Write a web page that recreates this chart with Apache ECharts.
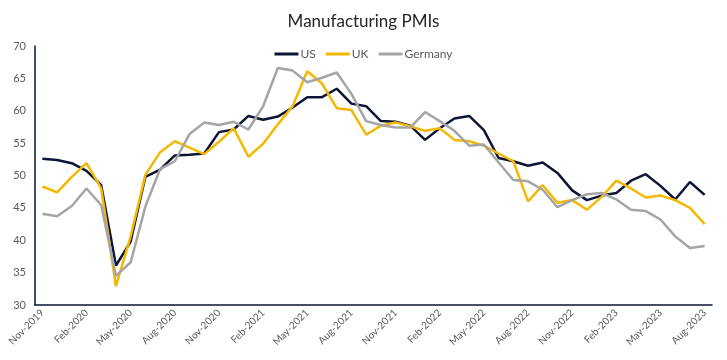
<!DOCTYPE html>
<html><head><meta charset="utf-8">
<script src="https://cdn.jsdelivr.net/npm/echarts@6/dist/echarts.min.js"></script>
<style>html,body{margin:0;padding:0;background:#fff}#c{width:727px;height:360px}</style>
</head><body><div id="c"></div>
<script>
const months = ['Jan','Feb','Mar','Apr','May','Jun','Jul','Aug','Sep','Oct','Nov','Dec'];
const categories = [];
for (let k = 0; k < 46; k++) { const m = (10 + k) % 12; const y = 2019 + Math.floor((10 + k) / 12); categories.push(months[m] + '-' + y); }
const us = [52.6,52.4,51.9,50.7,48.5,36.1,39.8,49.8,50.9,53.1,53.2,53.4,56.7,57.1,59.2,58.6,59.1,60.5,62.1,62.1,63.4,61.1,60.7,58.4,58.3,57.7,55.5,57.3,58.8,59.2,57.0,52.7,52.2,51.5,52.0,50.4,47.7,46.2,46.9,47.3,49.2,50.2,48.4,46.3,49.0,47.0];
const uk = [48.3,47.4,49.8,51.9,48.0,32.9,40.6,50.1,53.6,55.3,54.3,53.3,55.2,57.3,52.9,54.9,57.9,60.7,66.1,64.2,60.4,60.1,56.3,57.7,58.2,57.6,56.9,57.3,55.5,55.3,54.6,53.4,52.2,46.0,48.5,45.8,46.2,44.7,46.7,49.2,48.0,46.6,46.9,46.2,45.0,42.5];
const germany = [44.1,43.7,45.3,48.0,45.4,34.5,36.6,45.2,51.0,52.2,56.4,58.2,57.8,58.3,57.1,60.7,66.6,66.2,64.4,65.1,65.9,62.6,58.4,57.8,57.4,57.4,59.8,58.4,56.9,54.6,54.8,52.0,49.3,49.1,47.8,45.1,46.2,47.1,47.3,46.3,44.7,44.5,43.2,40.6,38.8,39.1];
const seriesNames = ['US','UK','Germany'];
const colors = ['#0d1537','#f5b800','#a5a5a5'];
const font = 'Lato, "Open Sans", sans-serif';
const chart = echarts.init(document.getElementById('c'));
const mk = (name, data, color) => ({
  name, type: 'line', data, symbol: 'none', smooth: false,
  lineStyle: { color, width: 2.5 }, itemStyle: { color }
});
chart.setOption({
  animation: false,
  color: colors,
  title: { text: 'Manufacturing PMIs', left: 'center', top: 8,
    textStyle: { fontFamily: font, fontSize: 17, fontWeight: 'normal', color: '#262626' } },
  legend: { data: seriesNames, top: 43, left: 'center', icon: 'rect', itemWidth: 24, itemHeight: 3, itemGap: 10,
    textStyle: { fontFamily: font, fontSize: 12, color: '#595959', padding: [0,0,0,-3] } },
  grid: { left: 35, right: 15, top: 46, bottom: 55, containLabel: false },
  xAxis: { type: 'category', data: categories, boundaryGap: true,
    axisLine: { lineStyle: { color: '#0d1537', width: 1.5 } }, axisTick: { show: false },
    axisLabel: { interval: 2, rotate: 45, fontFamily: font, fontSize: 10, color: '#595959', margin: 6 } },
  yAxis: { type: 'value', min: 30, max: 70, interval: 5, splitLine: { show: false },
    axisLine: { show: true, lineStyle: { color: '#0d1537', width: 1.5 } }, axisTick: { show: false },
    axisLabel: { fontFamily: font, fontSize: 11, color: '#595959', margin: 9 } },
  series: [mk('US', us, colors[0]), mk('UK', uk, colors[1]), mk('Germany', germany, colors[2])]
});
</script></body></html>
